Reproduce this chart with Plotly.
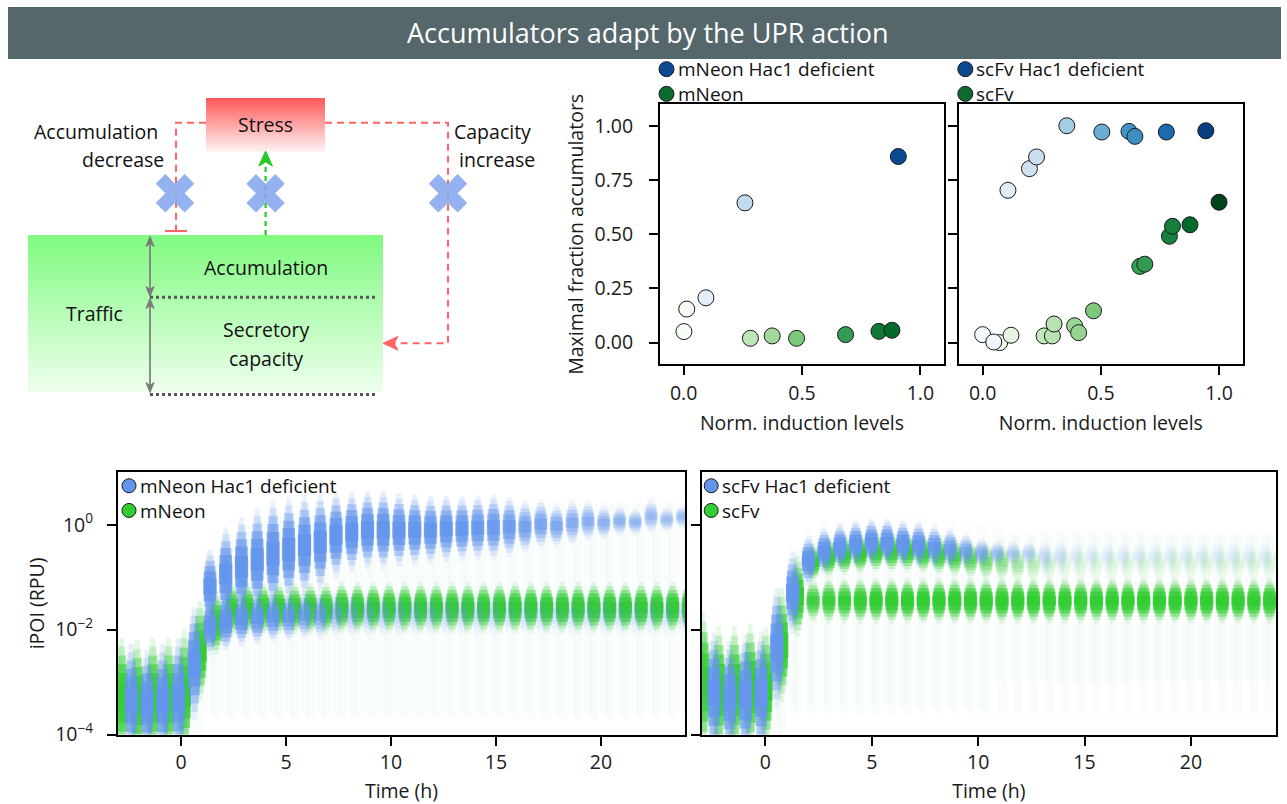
import plotly.graph_objects as go
import plotly.colors as pc

W, H = 1287, 804
FONT = "Open Sans"
TXT = "#1a1a1a"
FS = 19.5


def fx(p):
    return p / W


def fy(p):
    return 1 - p / H


# ---------------- data: top scatter panels ----------------
mneon_hac1_x = [0.094, 0.259, 0.907]
mneon_hac1_y = [0.207, 0.645, 0.859]
mneon_x = [0.001, 0.013, 0.282, 0.374, 0.477, 0.684, 0.825, 0.880]
mneon_y = [0.051, 0.155, 0.020, 0.031, 0.020, 0.037, 0.052, 0.057]
scfv_hac1_x = [0.000, 0.047, 0.107, 0.198, 0.228, 0.356, 0.504, 0.619, 0.644, 0.777, 0.944]
scfv_hac1_y = [0.037, 0.003, 0.703, 0.803, 0.857, 1.001, 0.972, 0.975, 0.952, 0.972, 0.978]
scfv_x = [0.072, 0.120, 0.260, 0.295, 0.302, 0.389, 0.406, 0.469, 0.665, 0.686, 0.790, 0.803, 0.877, 1.000]
scfv_y = [0.000, 0.034, 0.031, 0.031, 0.086, 0.078, 0.046, 0.147, 0.352, 0.362, 0.491, 0.537, 0.544, 0.648]

# ---------------- data: bottom time-course panels (log10 RPU) ----------------
# mNeon Hac1 deficient
t_mh = [-2.37, -1.62, -0.87, -0.12, 0.63, 1.38, 2.13, 2.88, 3.63, 4.38, 5.13, 5.88, 6.63, 7.38, 8.13, 8.88,
        9.63, 10.38, 11.13, 11.88, 12.63, 13.38, 14.13, 14.88, 15.63, 16.38, 17.13, 17.88, 18.63, 19.38,
        20.13, 20.88, 21.63, 22.38, 23.13, 23.88]
mid_mh = [-3.35, -3.4, -3.35, -3.3, -2.65, -1.18, -0.94, -0.8, -0.67, -0.55, -0.47, -0.39, -0.33, -0.2, -0.14,
          -0.1, -0.1, -0.1, -0.1, -0.1, -0.08, -0.07, -0.06, -0.05, -0.04, -0.04, 0.01, -0.02, 0.04, 0.07,
          0.04, 0.07, 0.05, 0.16, 0.1, 0.15]
spr_mh = [0.8, 0.75, 0.8, 0.85, 0.8, 0.52, 0.66, 0.7, 0.73, 0.75, 0.73, 0.71, 0.68, 0.6, 0.56, 0.55, 0.55,
          0.52, 0.5, 0.48, 0.47, 0.46, 0.46, 0.47, 0.43, 0.37, 0.35, 0.31, 0.32, 0.29, 0.25, 0.22, 0.2,
          0.25, 0.19, 0.18]
den_mh = [1, 1, 1, 1, 1, 1, 1, 1, 1, 1, 1, 1, 1, 1, 1, 1, 1, 0.95, 0.95, 0.9, 0.9, 0.85, 0.8, 0.75, 0.7,
          0.6, 0.55, 0.5, 0.45, 0.42, 0.4, 0.38, 0.35, 0.32, 0.3, 0.3]
low_mid_mh = [-1.8, -1.8, -1.8, -1.8, -1.8, -1.95, -1.85, -1.8, -1.78, -1.75, -1.75, -1.72, -1.72, -1.7,
              -1.7, -1.7, -1.7, -1.7, -1.7, -1.7, -1.7, -1.7, -1.7, -1.7, -1.7, -1.7, -1.7, -1.7, -1.7,
              -1.7, -1.7, -1.7, -1.7, -1.7, -1.7, -1.7]
low_spr_mh = [0.4, 0.4, 0.4, 0.4, 0.4, 0.4, 0.4, 0.38, 0.37, 0.36, 0.35, 0.35, 0.35, 0.35, 0.35, 0.35,
              0.35, 0.35, 0.35, 0.35, 0.35, 0.35, 0.35, 0.35, 0.35, 0.35, 0.35, 0.35, 0.35, 0.35, 0.35,
              0.35, 0.35, 0.35, 0.35, 0.35]
low_den_mh = [0, 0, 0, 0, 0, 1.0, 1.0, 0.9, 0.85, 0.8, 0.7, 0.6, 0.5, 0.3, 0.22, 0.2, 0.18, 0.18, 0.15,
              0.15, 0.14, 0.13, 0.12, 0.12, 0.1, 0.1, 0.1, 0.1, 0.1, 0.1, 0.1, 0.1, 0.1, 0.1, 0.1, 0.1]
hz_lo_mh = [-4.3, -4.3, -4.3, -4.3, -4.3, -3.6, -3.6, -3.6, -3.6, -3.6, -3.6, -3.6, -3.6, -3.6, -3.6,
            -3.6, -3.6, -3.6, -3.6, -3.6, -3.6, -3.6, -3.6, -3.6, -3.6, -3.6, -3.6, -3.6, -3.6, -3.6,
            -3.6, -3.6, -3.6, -3.6, -3.6, -3.6]
hz_hi_mh = [-2.3, -2.4, -2.3, -2.2, -1.6, -0.45, -0.1, 0.1, 0.25, 0.35, 0.42, 0.48, 0.5, 0.55, 0.6, 0.62,
            0.62, 0.6, 0.57, 0.55, 0.55, 0.52, 0.52, 0.55, 0.52, 0.5, 0.5, 0.45, 0.5, 0.5, 0.45, 0.45,
            0.42, 0.55, 0.45, 0.45]

# mNeon
t_mn = [-2.84, -2.09, -1.34, -0.59, 0.16, 0.91, 1.66, 2.41, 3.16, 3.91, 4.66, 5.41, 6.16, 6.91, 7.66,
        8.41, 9.16, 9.91, 10.66, 11.41, 12.16, 12.91, 13.66, 14.41, 15.16, 15.91, 16.66, 17.41, 18.16,
        18.91, 19.66, 20.41, 21.16, 21.91, 22.66, 23.41, 24.16]
mid_mn = [-3.3, -3.35, -3.3, -3.3, -3.2, -2.4, -1.87, -1.62, -1.6, -1.6, -1.6, -1.6, -1.6, -1.6, -1.58,
          -1.58, -1.58, -1.58, -1.58, -1.58, -1.58, -1.58, -1.58, -1.58, -1.58, -1.58, -1.58, -1.58,
          -1.58, -1.58, -1.58, -1.58, -1.58, -1.58, -1.58, -1.58, -1.58]
spr_mn = [0.85, 0.85, 0.85, 0.85, 0.9, 0.7, 0.45, 0.38, 0.36, 0.36, 0.36, 0.36, 0.36, 0.36, 0.36, 0.36,
          0.36, 0.36, 0.36, 0.36, 0.36, 0.36, 0.36, 0.36, 0.36, 0.36, 0.36, 0.36, 0.36, 0.36, 0.36, 0.36,
          0.36, 0.36, 0.36, 0.36, 0.36]
den_mn = [1, 1, 1, 1, 1, 1, 1, 1, 1, 1, 1, 1, 1, 1, 1, 1, 1, 1, 1, 1, 1, 1, 1, 1, 1, 1, 1, 1, 1, 1, 1,
          1, 1, 1, 1, 1, 1]
hz_lo_mn = [-4.3, -4.3, -4.3, -4.3, -4.3, -4.3, -3.7, -3.7, -3.7, -3.7, -3.7, -3.7, -3.7, -3.7, -3.7,
            -3.7, -3.7, -3.7, -3.7, -3.7, -3.7, -3.7, -3.7, -3.7, -3.7, -3.7, -3.7, -3.7, -3.7, -3.7,
            -3.7, -3.7, -3.7, -3.7, -3.7, -3.7, -3.7]
hz_hi_mn = [-2.2, -2.2, -2.2, -2.2, -2.1, -1.5, -0.6, -0.2, 0.0, 0.1, 0.15, 0.2, 0.2, 0.2, 0.2, 0.2, 0.2,
            0.2, 0.25, 0.25, 0.25, 0.3, 0.3, 0.3, 0.35, 0.35, 0.35, 0.4, 0.4, 0.4, 0.4, 0.4, 0.4, 0.4,
            0.4, 0.4, 0.4]

# scFv Hac1 deficient
t_sh = [-2.42, -1.68, -0.94, -0.2, 0.54, 1.28, 2.02, 2.76, 3.5, 4.24, 4.98, 5.72, 6.46, 7.2, 7.94, 8.68,
        9.42, 10.16, 10.9, 11.64, 12.38, 13.12, 13.86, 14.6, 15.34, 16.08, 16.82, 17.56, 18.3, 19.04,
        19.78, 20.52, 21.26, 22.0, 22.74, 23.48, 24.22]
mid_sh = [-3.2, -3.3, -3.25, -3.2, -2.35, -1.3, -0.69, -0.5, -0.42, -0.36, -0.33, -0.33, -0.36, -0.38,
          -0.42, -0.46, -0.5, -0.54, -0.55, -0.55, -0.55, -0.6, -0.6, -0.6, -0.6, -0.6, -0.6, -0.6, -0.6,
          -0.6, -0.6, -0.6, -0.6, -0.6, -0.6, -0.6, -0.6]
spr_sh = [0.85, 0.8, 0.85, 0.85, 0.85, 0.57, 0.35, 0.32, 0.32, 0.32, 0.32, 0.32, 0.32, 0.32, 0.3, 0.29,
          0.25, 0.22, 0.2, 0.2, 0.2, 0.25, 0.25, 0.25, 0.25, 0.25, 0.25, 0.25, 0.25, 0.25, 0.25, 0.25,
          0.25, 0.25, 0.25, 0.25, 0.25]
den_sh = [1, 1, 1, 1, 1, 1, 1, 1, 1, 1, 1, 1, 1, 0.9, 0.8, 0.65, 0.5, 0.4, 0.3, 0.22, 0.18, 0.12, 0.1,
          0.06, 0.06, 0.06, 0.06, 0.06, 0.06, 0.06, 0.06, 0.06, 0.06, 0.06, 0.06, 0.06, 0.06]
hz_lo_sh = [-4.3, -4.3, -4.3, -4.3, -4.3, -3.5, -3.5, -3.5, -3.5, -3.5, -3.5, -3.5, -3.5, -3.5, -3.5,
            -3.5, -3.5, -3.5, -3.0, -3.0, -3.0, -3.0, -3.0, -3.0, -3.0, -3.0, -3.0, -3.0, -3.0, -3.0,
            -3.0, -3.0, -3.0, -3.0, -3.0, -3.0, -3.0]
hz_hi_sh = [-2.2, -2.2, -2.2, -2.2, -1.3, -0.4, -0.05, 0.05, 0.1, 0.12, 0.15, 0.15, 0.15, 0.12, 0.1,
            0.08, 0.05, 0.0, -0.05, -0.1, -0.1, -0.1, -0.1, -0.1, -0.1, -0.1, -0.1, -0.1, -0.1, -0.1,
            -0.1, -0.1, -0.1, -0.1, -0.1, -0.1, -0.1]

# scFv
t_sc = [-2.94, -2.2, -1.46, -0.72, 0.02, 0.76, 1.5, 2.24, 2.98, 3.72, 4.46, 5.2, 5.94, 6.68, 7.42, 8.16,
        8.9, 9.64, 10.38, 11.12, 11.86, 12.6, 13.34, 14.08, 14.82, 15.56, 16.3, 17.04, 17.78, 18.52,
        19.26, 20.0, 20.74, 21.48, 22.22, 22.96, 23.7]
mid_sc = [-3.0, -3.15, -3.15, -3.1, -3.1, -2.3, -1.36, -1.45, -1.45, -1.45, -1.45, -1.45, -1.45, -1.45,
          -1.45, -1.45, -1.45, -1.45, -1.45, -1.45, -1.45, -1.45, -1.45, -1.45, -1.45, -1.45, -1.45,
          -1.45, -1.45, -1.45, -1.45, -1.45, -1.45, -1.45, -1.45, -1.45, -1.45]
spr_sc = [1.0, 0.9, 0.9, 0.9, 0.85, 0.8, 0.57, 0.3, 0.32, 0.32, 0.32, 0.32, 0.32, 0.32, 0.32, 0.32,
          0.32, 0.32, 0.32, 0.32, 0.32, 0.32, 0.32, 0.32, 0.32, 0.32, 0.32, 0.32, 0.32, 0.32, 0.32, 0.32,
          0.32, 0.32, 0.32, 0.32, 0.32]
den_sc = [1, 1, 1, 1, 1, 1, 1, 0.7, 0.8, 0.85, 0.9, 1, 1, 1, 1, 1, 1, 1, 1, 1, 1, 1, 1, 1, 1, 1, 1, 1,
          1, 1, 1, 1, 1, 1, 1, 1, 1]
up_mid_sc = [-0.7, -0.7, -0.7, -0.7, -0.7, -0.7, -0.7, -0.72, -0.62, -0.58, -0.55, -0.52, -0.52, -0.52,
             -0.55, -0.58, -0.62, -0.66, -0.7, -0.72, -0.75, -0.75, -0.75, -0.75, -0.75, -0.75, -0.75,
             -0.75, -0.75, -0.75, -0.75, -0.75, -0.75, -0.75, -0.75, -0.75, -0.75]
up_spr_sc = [0.28, 0.28, 0.28, 0.28, 0.28, 0.28, 0.28, 0.26, 0.28, 0.28, 0.28, 0.28, 0.28, 0.28, 0.28,
             0.28, 0.28, 0.28, 0.28, 0.28, 0.28, 0.28, 0.28, 0.28, 0.28, 0.28, 0.28, 0.28, 0.28, 0.28,
             0.28, 0.28, 0.28, 0.28, 0.28, 0.28, 0.28]
up_den_sc = [0, 0, 0, 0, 0, 0, 0, 0.9, 0.9, 0.9, 0.9, 0.85, 0.85, 0.8, 0.75, 0.7, 0.6, 0.45, 0.35, 0.25,
             0.18, 0.12, 0.08, 0.05, 0.05, 0.05, 0.05, 0.05, 0.05, 0.05, 0.05, 0.05, 0.05, 0.05, 0.05,
             0.05, 0.05]
hz_lo_sc = [-4.3, -4.3, -4.3, -4.3, -4.3, -4.3, -3.6, -3.6, -3.6, -3.6, -3.6, -3.6, -3.6, -3.6, -3.6,
            -3.6, -3.6, -3.6, -3.6, -3.6, -3.6, -3.6, -3.6, -3.6, -3.6, -3.6, -3.6, -3.6, -3.6, -3.6,
            -3.6, -3.6, -3.6, -3.6, -3.6, -3.6, -3.6]
hz_hi_sc = [-2.1, -2.1, -2.1, -2.1, -2.1, -1.2, -0.5, -0.2, -0.2, -0.2, -0.2, -0.2, -0.2, -0.2, -0.2,
            -0.2, -0.2, -0.2, -0.2, -0.2, -0.2, -0.2, -0.2, -0.2, -0.2, -0.2, -0.2, -0.2, -0.2, -0.2,
            -0.2, -0.2, -0.2, -0.2, -0.2, -0.2, -0.2]

time_ticks = [0, 5, 10, 15, 20]
ipoi_ticks = [-4, -2, 0]
ipoi_ticktext = ["10<sup>−4</sup>", "10<sup>−2</sup>", "10<sup>0</sup>"]
ind_ticks = [0, 0.5, 1.0]
frac_ticks = [0, 0.25, 0.5, 0.75, 1.0]

BLUE = "100,149,237"   # cornflowerblue
GREEN = "50,205,50"    # limegreen

fig = go.Figure()

# ---------------- diagram (top-left) ----------------
DX, DY = "x5", "y5"
fig.add_trace(go.Scatter(x=[206, 325, 325, 206, 206], y=[98, 98, 152, 152, 98], mode="lines",
                         fill="toself", line=dict(width=0),
                         fillgradient=dict(type="vertical", start=98, stop=152,
                                           colorscale=[[0, "rgb(255,88,88)"], [1, "rgb(255,244,244)"]]),
                         xaxis=DX, yaxis=DY, showlegend=False, hoverinfo="skip"))
fig.add_trace(go.Scatter(x=[28, 383, 383, 28, 28], y=[235, 235, 392, 392, 235], mode="lines",
                         fill="toself", line=dict(width=0),
                         fillgradient=dict(type="vertical", start=235, stop=392,
                                           colorscale=[[0, "rgb(128,250,128)"], [1, "rgb(238,255,238)"]]),
                         xaxis=DX, yaxis=DY, showlegend=False, hoverinfo="skip"))
fig.add_trace(go.Scatter(x=[175, 265.6, 448], y=[193.3, 193.3, 193.3], mode="markers",
                         marker=dict(symbol="x", size=34, color="rgb(136,170,238)", line=dict(width=0)),
                         opacity=0.9, xaxis=DX, yaxis=DY, showlegend=False, hoverinfo="skip"))

RED = "rgb(255,100,100)"
GRN = "rgb(40,200,40)"
GRAY = "#7a7a7a"
shapes = []


def dshape(**kw):
    d = dict(xref=DX, yref=DY)
    d.update(kw)
    shapes.append(d)


dshape(type="path", path="M 206 122.7 H 176 V 231", line=dict(color=RED, width=2, dash="7px,5px"),
       layer="below")
dshape(type="line", x0=165, x1=187, y0=231, y1=231, line=dict(color=RED, width=2), layer="below")
dshape(type="path", path="M 325 122.7 H 448 V 343.3 H 394", line=dict(color=RED, width=2, dash="7px,5px"),
       layer="below")
dshape(type="line", x0=265.6, x1=265.6, y0=235, y1=164, line=dict(color=GRN, width=2.2, dash="5px,4px"),
       layer="below")
# arrow heads
dshape(type="path", path="M 383 343.3 L 398 336.5 L 394 343.3 L 398 350.1 Z", fillcolor=RED,
       line=dict(color=RED, width=1))
dshape(type="path", path="M 265.6 151 L 258.8 166 L 265.6 162 L 272.4 166 Z", fillcolor=GRN,
       line=dict(color=GRN, width=1))
# gray double arrows
dshape(type="line", x0=150, x1=150, y0=240, y1=293, line=dict(color=GRAY, width=1.7))
dshape(type="line", x0=150, x1=150, y0=302, y1=389, line=dict(color=GRAY, width=1.7))
for tip, back in ((236.5, 1), (296.5, -1), (298.5, 1), (392.5, -1)):
    b = tip + 10 * back
    m = tip + 7 * back
    dshape(type="path", path=f"M 150 {tip} L 146 {b} L 150 {m} L 154 {b} Z", fillcolor=GRAY,
           line=dict(color=GRAY, width=1))
for yy in (297.3, 394.5):
    dshape(type="line", x0=150, x1=378, y0=yy, y1=yy, line=dict(color="#555555", width=3, dash="dot"))

annotations = []
diag_text = [("Stress", 265.6, 124.5), ("Accumulation", 95.5, 131), ("decrease", 123, 159),
             ("Capacity", 492.5, 131), ("increase", 497, 159), ("Accumulation", 266, 267),
             ("Traffic", 94, 313), ("Secretory", 266, 329.5), ("capacity", 266, 358)]
for txt, xx, yy in diag_text:
    annotations.append(dict(xref=DX, yref=DY, x=xx, y=yy, text=txt, showarrow=False,
                            font=dict(family=FONT, size=19.5, color="#111111"),
                            xanchor="center", yanchor="middle"))

# ---------------- top scatter panels ----------------
BLUES = pc.sequential.Blues
GREENS = pc.sequential.Greens


def dots(xs, ys, cs, xa, ya):
    fig.add_trace(go.Scatter(x=xs, y=ys, mode="markers", xaxis=xa, yaxis=ya, showlegend=False,
                             hoverinfo="skip",
                             marker=dict(size=16, color=xs, colorscale=cs, cmin=0, cmax=1,
                                         line=dict(color="#1a1a1a", width=1))))


dots(mneon_x, mneon_y, GREENS, "x", "y")
dots(mneon_hac1_x, mneon_hac1_y, BLUES, "x", "y")
dots(scfv_x, scfv_y, GREENS, "x2", "y2")
dots(scfv_hac1_x, scfv_hac1_y, BLUES, "x2", "y2")

# ---------------- bottom panels ----------------
# (half-height multiplier, width in h, opacity)
LAYERS = [(1.35, 0.22, 0.12), (1.15, 0.36, 0.2), (0.95, 0.46, 0.38), (0.75, 0.54, 0.55),
          (0.55, 0.6, 0.7), (0.3, 0.63, 0.85)]


def blobs(t, mid, spr, den, rgb, xa, ya):
    for m, w, a in LAYERS:
        fig.add_trace(go.Bar(
            x=t, base=[c - m * s for c, s in zip(mid, spr)], y=[2 * m * s for s in spr], width=w,
            marker=dict(color=[f"rgba({rgb},{a * d:.3f})" for d in den], line=dict(width=0)),
            xaxis=xa, yaxis=ya, showlegend=False, hoverinfo="skip"))


def haze(t, lo, hi, rgb, xa, ya, a=0.03):
    fig.add_trace(go.Bar(
        x=t, base=lo, y=[h - l for l, h in zip(lo, hi)], width=0.4,
        marker=dict(color=f"rgba({rgb},{a})", line=dict(width=0)),
        xaxis=xa, yaxis=ya, showlegend=False, hoverinfo="skip"))


haze(t_mn, hz_lo_mn, hz_hi_mn, GREEN, "x3", "y3")
haze(t_mh, hz_lo_mh, hz_hi_mh, BLUE, "x3", "y3")
blobs(t_mn, mid_mn, spr_mn, den_mn, GREEN, "x3", "y3")
blobs(t_mh, low_mid_mh, low_spr_mh, low_den_mh, BLUE, "x3", "y3")
blobs(t_mh, mid_mh, spr_mh, den_mh, BLUE, "x3", "y3")

haze(t_sc, hz_lo_sc, hz_hi_sc, GREEN, "x4", "y4")
haze(t_sh, hz_lo_sh, hz_hi_sh, BLUE, "x4", "y4")
blobs(t_sc, mid_sc, spr_sc, den_sc, GREEN, "x4", "y4")
blobs(t_sc, up_mid_sc, up_spr_sc, up_den_sc, GREEN, "x4", "y4")
blobs(t_sh, mid_sh, spr_sh, den_sh, BLUE, "x4", "y4")

# ---------------- legends (markers + two-line text) ----------------
LEG_FS = 19
LINE_STEP = LEG_FS * 1.3
legend_items = [
    (666.5, 81.5, "#0b4a91", "#0d6b2e", "mNeon Hac1 deficient", "mNeon", 15),
    (965.3, 81.5, "#0b4a91", "#0d6b2e", "scFv Hac1 deficient", "scFv", 15),
    (129.0, 498.1, "rgb(100,149,237)", "rgb(50,205,50)", "mNeon Hac1 deficient", "mNeon", 14),
    (711.2, 498.1, "rgb(100,149,237)", "rgb(50,205,50)", "scFv Hac1 deficient", "scFv", 14),
]
for cx, cy, c1, c2, l1, l2, d in legend_items:
    r = d / 2
    for k, col in ((-0.5, c1), (0.5, c2)):
        shapes.append(dict(type="circle", xref="paper", yref="paper", xsizemode="pixel",
                           ysizemode="pixel", xanchor=fx(cx), yanchor=fy(cy + k * LINE_STEP),
                           x0=-r, x1=r, y0=-r, y1=r, fillcolor=col, line=dict(color="#1a1a1a", width=1)))
    annotations.append(dict(xref="paper", yref="paper", x=fx(cx + r + 2.5), y=fy(cy),
                            text=f"{l1}<br>{l2}", showarrow=False, xanchor="left", yanchor="middle",
                            align="left", borderpad=0,
                            font=dict(family=FONT, size=LEG_FS, color="#111111")))

# ---------------- banner ----------------
shapes.append(dict(type="rect", xref="paper", yref="paper", x0=fx(8), x1=fx(1281), y0=fy(59), y1=fy(7),
                   fillcolor="#56676c", line=dict(width=0), layer="above"))
annotations.append(dict(xref="paper", yref="paper", x=fx(648), y=fy(32),
                        text="Accumulators adapt by the UPR action", showarrow=False,
                        xanchor="center", yanchor="middle",
                        font=dict(family=FONT, size=27, color="white")))

# ---------------- axes ----------------
ax = dict(showline=True, linecolor="black", linewidth=2, mirror=True, ticks="outside", ticklen=9,
          tickwidth=2, tickcolor="black", showgrid=False, zeroline=False,
          tickfont=dict(family=FONT, size=FS, color=TXT))
tfont = dict(family=FONT, size=FS, color=TXT)

top_y = [fy(364.3), fy(104.3)]
bot_y = [fy(734.5), fy(472.3)]

fig.update_layout(
    width=W, height=H, margin=dict(l=0, r=0, t=0, b=0), template="none",
    paper_bgcolor="white", plot_bgcolor="white", barmode="overlay", showlegend=False,
    font=dict(family=FONT, color=TXT),
    xaxis=dict(domain=[fx(660), fx(944)], range=[-0.1, 1.1], tickvals=ind_ticks, tickformat=".1f",
               anchor="y", ticklabelstandoff=1,
               title=dict(text="Norm. induction levels", font=tfont, standoff=12), **ax),
    yaxis=dict(domain=top_y, range=[-0.1, 1.1], tickvals=frac_ticks, tickformat=".2f", anchor="x",
               ticklabelstandoff=12,
               title=dict(text="Maximal fraction accumulators", font=tfont, standoff=6), **ax),
    xaxis2=dict(domain=[fx(959), fx(1242.7)], range=[-0.1, 1.1], tickvals=ind_ticks, tickformat=".1f",
                anchor="y2", ticklabelstandoff=1,
                title=dict(text="Norm. induction levels", font=tfont, standoff=12), **ax),
    yaxis2=dict(domain=top_y, range=[-0.1, 1.1], tickvals=frac_ticks, showticklabels=False, anchor="x2",
                **ax),
    xaxis3=dict(domain=[fx(118), fx(685)], range=[-3, 24], tickvals=time_ticks, anchor="y3",
                ticklabelstandoff=0, title=dict(text="Time (h)", font=tfont, standoff=12), **ax),
    yaxis3=dict(domain=bot_y, range=[-4, 1], tickvals=ipoi_ticks, ticktext=ipoi_ticktext, anchor="x3",
                ticklabelstandoff=10, title=dict(text="iPOI (RPU)", font=tfont, standoff=5), **ax),
    xaxis4=dict(domain=[fx(701.6), fx(1276)], range=[-3, 24], tickvals=time_ticks, anchor="y4",
                ticklabelstandoff=0, title=dict(text="Time (h)", font=tfont, standoff=12), **ax),
    yaxis4=dict(domain=bot_y, range=[-4, 1], tickvals=ipoi_ticks, showticklabels=False, anchor="x4", **ax),
    xaxis5=dict(domain=[0, fx(560)], range=[0, 560], visible=False, anchor="y5", fixedrange=True),
    yaxis5=dict(domain=[fy(410), fy(60)], range=[410, 60], visible=False, anchor="x5", fixedrange=True),
    shapes=shapes, annotations=annotations,
)

fig.write_html("out.html")
